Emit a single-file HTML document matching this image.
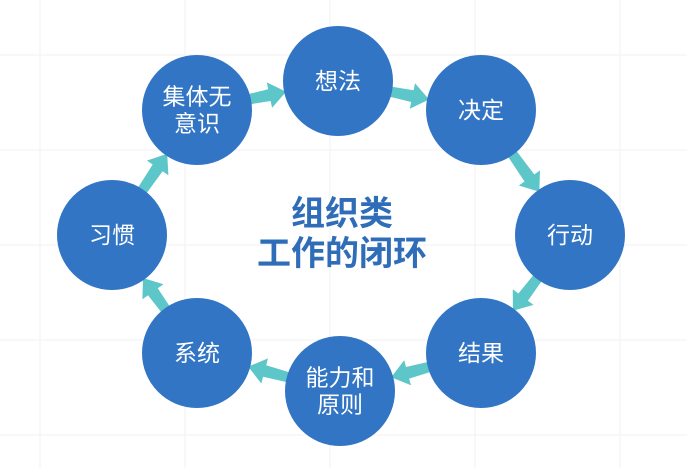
<!DOCTYPE html>
<html><head><meta charset="utf-8"><style>
html,body{margin:0;padding:0;background:#fff;width:687px;height:468px;overflow:hidden}
svg{display:block}
text{font-family:"Liberation Sans","Noto Sans CJK SC",sans-serif}
</style></head><body>
<svg id="s" width="687" height="468" xmlns="http://www.w3.org/2000/svg">
<g stroke="#ededed" stroke-width="1.5" fill="none">
<path d="M40 0V468M185 0V468M330 0V468M475 0V468M620 0V468M0 55H687M0 150H687M0 245H687M0 340H687M0 435H687" opacity="0.5"/>
</g>
<g id="arr" fill="#5cc6c9"></g>
<g id="c" fill="#3275c4"></g>
<text x="342" y="225" font-size="34" font-weight="bold" fill="#2f6db8" text-anchor="middle">组织类</text>
<text x="342" y="265" font-size="34" font-weight="bold" fill="#2f6db8" text-anchor="middle">工作的闭环</text>
</svg>
<script>
var N=[[338,81,["想法"]],[481,110,["决定"]],[570,235,["行动"]],[481,353,["结果"]],[340,391,["能力和","原则"]],[197,353,["系统"]],[112,235,["习惯"]],[197,110,["集体无","意识"]]];
var s=document.getElementById('c'),a=document.getElementById('arr'),ns="http://www.w3.org/2000/svg",R=55;
N.forEach(function(n){
 var c=document.createElementNS(ns,'circle');c.setAttribute('cx',n[0]);c.setAttribute('cy',n[1]);c.setAttribute('r',R);s.appendChild(c);
 var L=n[2];L.forEach(function(t,i){var e=document.createElementNS(ns,'text');e.setAttribute('x',n[0]);e.setAttribute('y',n[1]+8+(i-(L.length-1)/2)*27);e.setAttribute('font-size','23');e.setAttribute('fill','#fff');e.setAttribute('text-anchor','middle');e.textContent=t;document.getElementById('s').appendChild(e);});
});
for(var i=0;i<8;i++){
 var p=N[(i+7)%8],q=N[i];var dx=q[0]-p[0],dy=q[1]-p[1],d=Math.hypot(dx,dy),ux=dx/d,uy=dy/d,vx=-uy,vy=ux;
 var sx=p[0]+ux*(R-4),sy=p[1]+uy*(R-4),ex=q[0]-ux*(R-2),ey=q[1]-uy*(R-2),hl=17;
 var hx=ex-ux*hl,hy=ey-uy*hl;
 var pts=[[sx+vx*5,sy+vy*5],[hx+vx*6,hy+vy*6],[hx+vx*13,hy+vy*13],[ex,ey],[hx-vx*13,hy-vy*13],[hx-vx*6,hy-vy*6],[sx-vx*5,sy-vy*5]];
 var g=document.createElementNS(ns,'polygon');g.setAttribute('points',pts.map(function(t){return t[0].toFixed(1)+','+t[1].toFixed(1)}).join(' '));a.appendChild(g);
}
</script>
</body></html>
